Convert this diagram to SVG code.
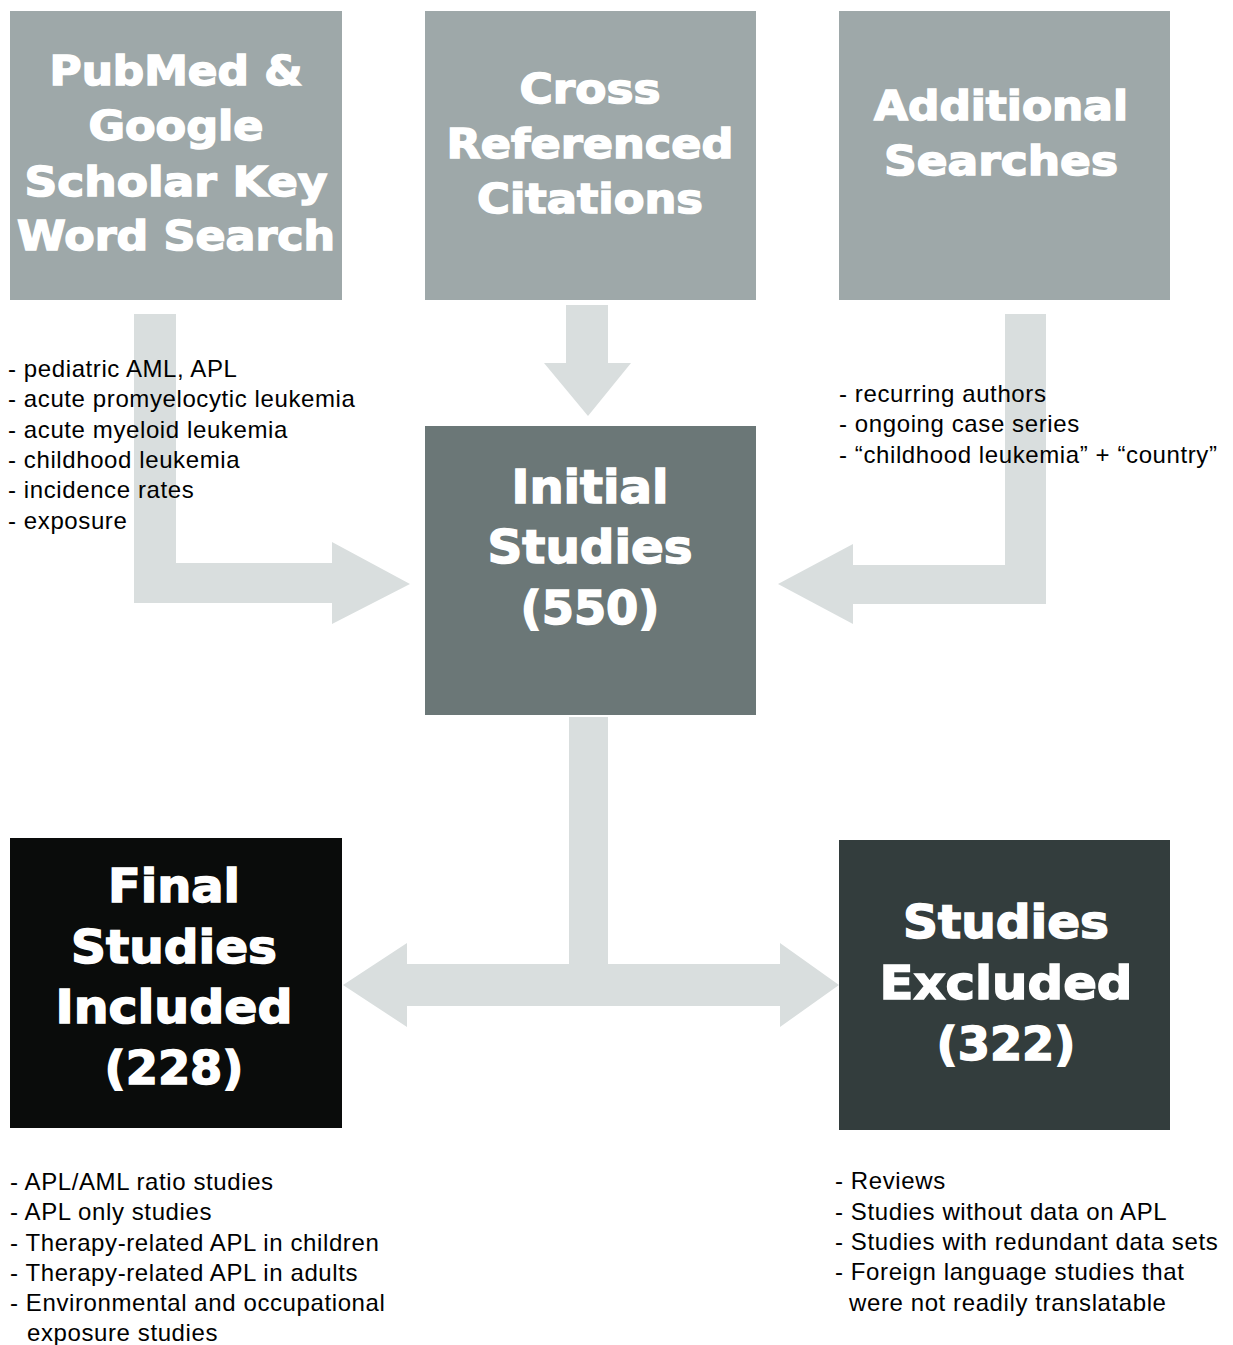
<svg xmlns="http://www.w3.org/2000/svg" width="1233" height="1345" viewBox="0 0 1233 1345">
<style>
.t{font-family:"DejaVu Sans",sans-serif;font-weight:bold;fill:#fff;text-anchor:middle;stroke:#fff;stroke-width:1.5}
.s{font-size:41px}
.b{font-size:47px}
.l{font-family:"Liberation Sans",Arial,sans-serif;font-size:24px;letter-spacing:0.6px;fill:#000}
.a{fill:#d9dede}
</style>
<rect width="1233" height="1345" fill="#fff"/>
<g id="connectors">
<polygon class="a" points="134,314 176,314 176,563 332,563 332,542 410,584 332,624 332,603 134,603"/>
<polygon class="a" points="566,305 608,305 608,363 631,363 588,416 544,363 566,363"/>
<polygon class="a" points="1005,314 1046,314 1046,604 853,604 853,624 778,584 853,544 853,565 1005,565"/>
<polygon class="a" points="569,717 608,717 608,964 780,964 780,943 839,985 780,1027 780,1006 407,1006 407,1027 343,985 407,943 407,964 569,964"/>
</g>
<g id="pubmed">
<rect x="10" y="11" width="332" height="289" fill="#9ea8a9"/>
<text class="t s" x="176" y="85" textLength="253" lengthAdjust="spacingAndGlyphs">PubMed &amp;</text>
<text class="t s" x="176" y="140" textLength="175" lengthAdjust="spacingAndGlyphs">Google</text>
<text class="t s" x="176" y="196" textLength="303" lengthAdjust="spacingAndGlyphs">Scholar Key</text>
<text class="t s" x="176" y="250" textLength="318" lengthAdjust="spacingAndGlyphs">Word Search</text>
</g>
<g id="crossref">
<rect x="425" y="11" width="331" height="289" fill="#9ea8a9"/>
<text class="t s" x="590" y="103" textLength="141" lengthAdjust="spacingAndGlyphs">Cross</text>
<text class="t s" x="590" y="158" textLength="287" lengthAdjust="spacingAndGlyphs">Referenced</text>
<text class="t s" x="590" y="213" textLength="226" lengthAdjust="spacingAndGlyphs">Citations</text>
</g>
<g id="additional">
<rect x="839" y="11" width="331" height="289" fill="#9ea8a9"/>
<text class="t s" x="1001" y="120" textLength="254" lengthAdjust="spacingAndGlyphs">Additional</text>
<text class="t s" x="1001" y="175" textLength="234" lengthAdjust="spacingAndGlyphs">Searches</text>
</g>
<g id="initial">
<rect x="425" y="426" width="331" height="289" fill="#6b7777"/>
<text class="t b" x="590" y="503" textLength="157" lengthAdjust="spacingAndGlyphs">Initial</text>
<text class="t b" x="590" y="563" textLength="205" lengthAdjust="spacingAndGlyphs">Studies</text>
<text class="t b" x="590" y="624" textLength="139" lengthAdjust="spacingAndGlyphs">(550)</text>
</g>
<g id="final">
<rect x="10" y="838" width="332" height="290" fill="#0a0c0b"/>
<text class="t b" x="174" y="902" textLength="132" lengthAdjust="spacingAndGlyphs">Final</text>
<text class="t b" x="174" y="963" textLength="206" lengthAdjust="spacingAndGlyphs">Studies</text>
<text class="t b" x="174" y="1023" textLength="237" lengthAdjust="spacingAndGlyphs">Included</text>
<text class="t b" x="174" y="1084" textLength="139" lengthAdjust="spacingAndGlyphs">(228)</text>
</g>
<g id="excluded">
<rect x="839" y="840" width="331" height="290" fill="#333d3d"/>
<text class="t b" x="1006" y="938" textLength="206" lengthAdjust="spacingAndGlyphs">Studies</text>
<text class="t b" x="1006" y="999" textLength="253" lengthAdjust="spacingAndGlyphs">Excluded</text>
<text class="t b" x="1006" y="1060" textLength="139" lengthAdjust="spacingAndGlyphs">(322)</text>
</g>
<g id="keywords">
<text class="l" x="8" y="377">- pediatric AML, APL</text>
<text class="l" x="8" y="407">- acute promyelocytic leukemia</text>
<text class="l" x="8" y="438">- acute myeloid leukemia</text>
<text class="l" x="8" y="468">- childhood leukemia</text>
<text class="l" x="8" y="498">- incidence rates</text>
<text class="l" x="8" y="529">- exposure</text>
</g>
<g id="searches">
<text class="l" x="839" y="402">- recurring authors</text>
<text class="l" x="839" y="432">- ongoing case series</text>
<text class="l" x="839" y="463">- “childhood leukemia” + “country”</text>
</g>
<g id="included-list">
<text class="l" x="10" y="1190">- APL/AML ratio studies</text>
<text class="l" x="10" y="1220">- APL only studies</text>
<text class="l" x="10" y="1251">- Therapy-related APL in children</text>
<text class="l" x="10" y="1281">- Therapy-related APL in adults</text>
<text class="l" x="10" y="1311">- Environmental and occupational</text>
<text class="l" x="27" y="1341">exposure studies</text>
</g>
<g id="excluded-list">
<text class="l" x="835" y="1189">- Reviews</text>
<text class="l" x="835" y="1220">- Studies without data on APL</text>
<text class="l" x="835" y="1250">- Studies with redundant data sets</text>
<text class="l" x="835" y="1280">- Foreign language studies that</text>
<text class="l" x="849" y="1311">were not readily translatable</text>
</g>
</svg>
